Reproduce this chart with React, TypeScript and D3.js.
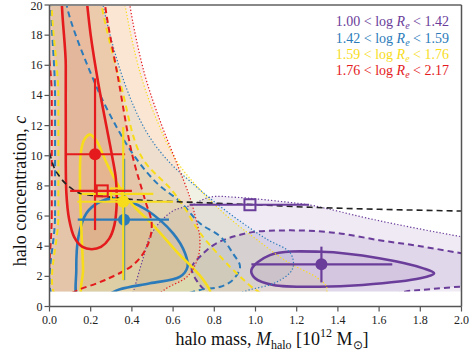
import React from "react";
import * as d3 from "d3";

type P = [number, number];

// ---- contour data (halo mass [1e12 Msun], concentration c) ----
const purpleSolid: P[] = [[0.98, 2.42], [1.07, 3.41], [1.32, 3.63], [1.6, 3.2], [1.815, 2.53], [1.867, 2.2], [1.8, 1.87], [1.52, 1.43], [1.31, 1.31], [1.086, 1.43], [0.998, 1.87]];
const purpleDashed: P[] = [[0.72, 1.6], [0.69, 2.55], [0.73, 3.3], [0.81, 4.19], [0.973, 4.9], [1.17, 5.05], [1.38, 4.9], [1.6, 4.4], [1.8, 4.0], [2.0, 3.53], [2.15, 3.2], [2.15, 1.25], [2.0, 1.31], [1.85, 1.15], [1.73, 1.0], [1.6, 0.6], [0.8, 0.6], [0.76, 1.0]];
const purpleDotted: P[] = [[0.4, 0.6], [0.41, 1.1], [0.45, 3.0], [0.496, 4.85], [0.593, 6.29], [0.69, 6.73], [0.78, 7.26], [0.91, 7.24], [1.135, 6.95], [1.265, 6.73], [1.36, 6.45], [1.6, 5.69], [2.0, 4.63], [2.2, 4.2], [2.2, 0.5]];

const blueSolid: P[] = [[0.14, 0.5], [0.13, 2.4], [0.14, 4.6], [0.18, 6.2], [0.245, 6.95], [0.31, 7.17], [0.38, 7.0], [0.472, 6.4], [0.6, 4.85], [0.658, 3.53], [0.67, 2.64], [0.634, 1.98], [0.488, 1.54], [0.342, 1.14], [0.25, 0.6]];
const blueDashed: P[] = [[0.027, 0.4], [0.027, 6], [0.027, 14], [0.027, 22], [0.075, 22], [0.083, 20], [0.221, 14.8], [0.33, 11.8], [0.415, 9.93], [0.52, 8.2], [0.634, 6.95], [0.73, 5.52], [0.83, 4.63], [0.89, 3.53], [0.925, 2.64], [0.89, 1.76], [0.83, 1.31], [0.73, 1.1], [0.6, 0.6], [0.3, 0.4]];
const blueDotted: P[] = [[-0.05, 0.5], [-0.05, 8], [-0.05, 16], [-0.05, 22], [0.24, 22], [0.26, 20], [0.36, 15], [0.47, 11.6], [0.58, 9.6], [0.7, 8.1], [0.8, 6.95], [0.917, 5.74], [1.05, 4.5], [1.17, 3.53], [1.18, 2.5], [1.1, 1.6], [0.97, 1.1], [0.85, 0.6], [0.4, 0.5]];

const yellowSolid: P[] = [[0.165, 0.5], [0.163, 2.5], [0.155, 5.0], [0.148, 8.0], [0.152, 10.2], [0.17, 11.1], [0.197, 11.4], [0.228, 11.0], [0.278, 9.5], [0.358, 7.5], [0.42, 6.5], [0.496, 5.5], [0.625, 3.53], [0.69, 2.64], [0.747, 1.76], [0.78, 0.8], [0.5, 0.5]];
const yellowDashed: P[] = [[0.043, 0.4], [0.043, 6], [0.043, 14], [0.043, 22], [0.24, 22], [0.253, 20], [0.35, 14.5], [0.447, 9.93], [0.593, 7.73], [0.658, 6.5], [0.73, 4.9], [0.876, 2.64], [0.99, 1.2], [1.05, 0.6], [0.5, 0.4]];
const yellowDotted: P[] = [[-0.05, 0.5], [-0.05, 8], [-0.05, 16], [-0.05, 22], [0.35, 22], [0.367, 20], [0.44, 15.5], [0.52, 12.4], [0.62, 9.6], [0.763, 7.28], [0.884, 5.74], [1.0, 4.5], [1.15, 3.0], [1.3, 1.9], [1.345, 1.31], [1.33, 0.6], [0.5, 0.5]];

const redSolid: P[] = [[0.079, 22], [0.079, 16], [0.079, 12], [0.082, 7.5], [0.095, 5.8], [0.12, 4.6], [0.16, 3.95], [0.205, 3.8], [0.25, 3.95], [0.29, 4.5], [0.315, 5.4], [0.326, 6.8], [0.322, 8.5], [0.305, 9.9], [0.27, 12.4], [0.237, 14.8], [0.2, 18], [0.175, 21], [0.165, 22]];
const redDashed: P[] = [[0.011, 0.4], [0.011, 6], [0.011, 14], [0.011, 22], [0.26, 22], [0.27, 20], [0.335, 15], [0.4, 10.16], [0.464, 7.06], [0.496, 5.5], [0.48, 4.19], [0.415, 2.86], [0.27, 1.76], [0.14, 1.1], [0.06, 0.6]];
const redDotted: P[] = [[-0.05, 0.5], [-0.05, 8], [-0.05, 16], [-0.05, 22], [0.375, 22], [0.39, 20], [0.46, 15.5], [0.54, 12.2], [0.615, 9.6], [0.68, 7.3], [0.71, 5.85], [0.73, 4.5], [0.72, 3.2], [0.67, 2.0], [0.58, 1.3], [0.5, 0.7], [0.2, 0.5]];

// best-fit points with errors
const pointM = [1.32, 0.362, 0.358, 0.221];
const pointC = [2.8, 5.76, 6.95, 10.1];
const pointXlo = [0.98, 0.137, 0.135, 0.079];
const pointXhi = [1.664, 0.58, 0.6, 0.367];
const pointYlo = [1.6, 1.75, 1.76, 5.07];
const pointYhi = [3.97, 9.8, 11.9, 15.13];
// open squares (purple, yellow, red)
const squareSeries = [0, 2, 3];
const squareM = [0.973, 0.326, 0.256];
const squareC = [6.75, 7.47, 7.67];
const squareXlo = [0.68, 0.156, 0.1];
const squareXhi = [1.26, 0.504, 0.4];

// dashed relation
const relM = [0, 0.02, 0.05, 0.1, 0.15, 0.28, 0.44, 0.62, 1.0, 1.27, 1.6, 2.0];
const relC = [10.2, 9.3, 8.6, 7.9, 7.5, 7.28, 7.06, 6.95, 6.75, 6.58, 6.45, 6.33];

const legendLo = ["1.00", "1.42", "1.59", "1.76"];
const legendHi = ["1.42", "1.59", "1.76", "2.17"];
const lineColors = ["#6a3d9a", "#2b7bba", "#f7dc1c", "#e41a1c"];
const fillColors = ["#7b52a8", "#3c7fae", "#f2cf00", "#de5a44"];
const fillAlpha = [0.12, 0.07, 0.085, 0.13];
const contours: P[][][] = [
  [purpleSolid, purpleDashed, purpleDotted],
  [blueSolid, blueDashed, blueDotted],
  [yellowSolid, yellowDashed, yellowDotted],
  [redSolid, redDashed, redDotted],
];

const xTicks = d3.range(0, 2.01, 0.2);
const yTicks = d3.range(0, 21, 2);

export default function App() {
  const W = 469, H = 351;
  const x = d3.scaleLinear().domain([0, 2]).range([49.5, 461.5]);
  const y = d3.scaleLinear().domain([0, 20]).range([306.5, 5]);
  const closed = d3.line<P>().x(d => x(d[0])).y(d => y(d[1])).curve(d3.curveCatmullRomClosed.alpha(0.5));
  const rel = d3.line<number>().x((_, i) => x(relM[i])).y((_, i) => y(relC[i])).curve(d3.curveMonotoneX);
  const font = "'Liberation Serif', 'Times New Roman', serif";
  const styles = [
    { w: 2.6, dash: undefined as string | undefined },
    { w: 2.0, dash: "6,4" },
    { w: 1.2, dash: "1.3,2" },
  ];

  return (
    <svg width={W} height={H} style={{ position: "absolute", left: 0, top: 0, background: "#fff" }}>
      <defs>
        <clipPath id="plotclip">
          <rect x={x(0)} y={y(20)} width={x(2) - x(0)} height={y(1) - y(20)} />
        </clipPath>
      </defs>
      <g clipPath="url(#plotclip)">
        {contours.map((levels, s) =>
          levels.slice().reverse().map((pts, k) => (
            <path key={`f${s}-${k}`} d={closed(pts) || ""} fill={fillColors[s]} fillOpacity={fillAlpha[s]} stroke="none" />
          ))
        )}
        {contours.map((levels, s) =>
          levels.map((pts, k) => (
            <path key={`l${s}-${k}`} d={closed(pts) || ""} fill="none" stroke={lineColors[s]}
              strokeWidth={styles[k].w} strokeDasharray={styles[k].dash} />
          ))
        )}
      </g>
      <path d={rel(relM) || ""} fill="none" stroke="#222" strokeWidth={1.6} strokeDasharray="6,4" clipPath="url(#plotclip)" />

      {[0, 1, 3, 2].map(s => (
        <g key={`pt${s}`} stroke={lineColors[s]} fill={lineColors[s]}>
          <line x1={x(pointXlo[s])} x2={x(pointXhi[s])} y1={y(pointC[s])} y2={y(pointC[s])} strokeWidth={2.2} />
          <line x1={x(pointM[s])} x2={x(pointM[s])} y1={y(pointYlo[s])} y2={y(pointYhi[s])} strokeWidth={2.2} />
          <circle cx={x(pointM[s])} cy={y(pointC[s])} r={6} stroke="none" />
        </g>
      ))}
      {squareSeries.map((s, i) => (
        <g key={`sq${i}`} stroke={lineColors[s]} fill="none">
          <line x1={x(squareXlo[i])} x2={x(squareXhi[i])} y1={y(squareC[i])} y2={y(squareC[i])} strokeWidth={2.2} />
          <rect x={x(squareM[i]) - 5.5} y={y(squareC[i]) - 5.5} width={11} height={11} strokeWidth={2} />
        </g>
      ))}

      {/* frame */}
      <line x1={x(0)} x2={x(2)} y1={y(20)} y2={y(20)} stroke="#888" strokeWidth={2} />
      <line x1={x(2)} x2={x(2)} y1={y(20)} y2={y(0)} stroke="#555" strokeWidth={1.5} />
      <line x1={x(0)} x2={x(0)} y1={y(20)} y2={y(0)} stroke="#555" strokeWidth={1.5} />
      <line x1={x(0)} x2={x(2)} y1={y(0)} y2={y(0)} stroke="#555" strokeWidth={1.5} />

      {yTicks.map(t => (
        <g key={`yt${t}`}>
          <line x1={x(0) - 5} x2={x(0)} y1={y(t)} y2={y(t)} stroke="#555" strokeWidth={1.2} />
          <text x={x(0) - 7} y={Math.max(y(t) + 4, 9.5)} textAnchor="end" fontFamily={font} fontSize={12} fill="#222">{t}</text>
        </g>
      ))}
      {xTicks.map(t => (
        <g key={`xt${t.toFixed(1)}`}>
          <line x1={x(t)} x2={x(t)} y1={y(0)} y2={y(0) + 5} stroke="#555" strokeWidth={1.2} />
          <text x={x(t)} y={y(0) + 17} textAnchor="middle" fontFamily={font} fontSize={12} fill="#222">{t.toFixed(1)}</text>
        </g>
      ))}

      <text transform="translate(26,191) rotate(-90)" textAnchor="middle" fontFamily={font} fontSize={18} fill="#111">
        halo concentration, <tspan fontStyle="italic">c</tspan>
      </text>
      <text x={272} y={345} textAnchor="middle" fontFamily={font} fontSize={18} fill="#111">
        halo mass, <tspan fontStyle="italic">M</tspan><tspan fontSize={12} dy={4}>halo</tspan>
        <tspan dy={-4}> [10</tspan><tspan fontSize={12} dy={-8}>12</tspan><tspan dy={8}> M</tspan>
        <tspan fontSize={12} dy={4}>⊙</tspan><tspan dy={-4}>]</tspan>
      </text>

      {legendLo.map((lo, i) => (
        <text key={`lg${i}`} x={449} y={26.3 + i * 16.3} textAnchor="end" fontFamily={font} fontSize={14} fill={lineColors[i]}>
          {lo} &lt; log <tspan fontStyle="italic">R</tspan><tspan fontStyle="italic" fontSize={10} dy={3}>e</tspan>
          <tspan dy={-3}> &lt; {legendHi[i]}</tspan>
        </text>
      ))}
    </svg>
  );
}
